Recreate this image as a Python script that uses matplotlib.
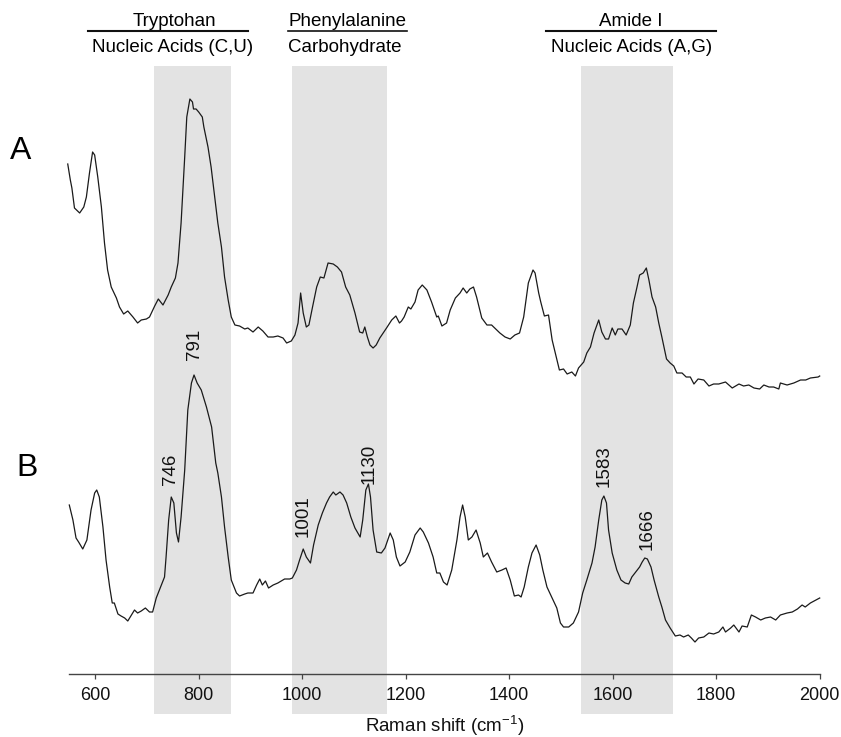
import numpy as np
import matplotlib
matplotlib.use("Agg")
import matplotlib.pyplot as plt
from matplotlib.lines import Line2D

plt.rcParams["font.family"] = ["Liberation Sans", "DejaVu Sans"]
plt.rcParams["mathtext.fontset"] = "custom"
plt.rcParams["mathtext.rm"] = "Liberation Sans"
plt.rcParams["mathtext.default"] = "regular"

# spectrum A (upper trace), intensity in arbitrary units, stacked offset already included
shift_a = [547, 552, 555, 560, 570, 578, 583, 589, 595, 599, 605, 612, 618, 624, 631, 641, 647, 655,
           663, 673, 682, 689, 699, 705, 715, 722, 731, 741, 747, 755, 760, 766, 773, 777, 783, 788,
           790, 795, 800, 807, 810, 818, 824, 831, 837, 844, 850, 857, 863, 870, 879, 889, 895, 905,
           915, 924, 934, 944, 953, 963, 970, 979, 986, 992, 997, 1002, 1008, 1013, 1020, 1028, 1035,
           1042, 1050, 1060, 1068, 1076, 1084, 1092, 1102, 1111, 1117, 1121, 1126, 1131, 1137, 1143,
           1150, 1163, 1173, 1181, 1188, 1192, 1197, 1205, 1210, 1218, 1224, 1232, 1241, 1250, 1260,
           1263, 1270, 1279, 1286, 1296, 1305, 1311, 1318, 1324, 1331, 1337, 1347, 1357, 1366, 1376,
           1382, 1392, 1402, 1411, 1420, 1428, 1437, 1446, 1450, 1457, 1461, 1468, 1476, 1483, 1489,
           1497, 1505, 1512, 1521, 1528, 1534, 1544, 1550, 1557, 1564, 1573, 1579, 1586, 1592, 1599,
           1605, 1610, 1618, 1626, 1634, 1640, 1647, 1652, 1659, 1665, 1670, 1676, 1683, 1689, 1695,
           1704, 1711, 1718, 1724, 1734, 1742, 1750, 1757, 1765, 1776, 1786, 1795, 1805, 1818, 1831,
           1844, 1853, 1863, 1873, 1884, 1892, 1902, 1911, 1921, 1924, 1937, 1950, 1963, 1973, 1982,
           1997, 2000]
intensity_a = [510, 494, 486, 466, 461, 467, 477, 501, 522, 519, 497, 467, 431, 404, 387, 376, 367, 360,
               363, 357, 351, 354, 355, 357, 368, 375, 369, 379, 387, 396, 411, 451, 517, 557, 575, 572,
               565, 565, 562, 557, 547, 527, 507, 477, 451, 427, 397, 374, 357, 349, 348, 345, 346, 342,
               347, 343, 337, 337, 338, 336, 331, 333, 339, 351, 381, 361, 347, 349, 367, 387, 397,
               396, 411, 410, 407, 402, 387, 379, 361, 342, 341, 347, 337, 329, 326, 329,
               336, 346, 354, 358, 351, 353, 357, 367, 365, 372, 384, 389, 384, 372, 357,
               358, 348, 351, 364, 376, 381, 386, 381, 385, 387, 377, 356, 349, 349, 344,
               341, 337, 335, 339, 341, 357, 391, 404, 401, 381, 372, 358, 359, 334, 321,
               304, 305, 300, 302, 298, 306, 312, 321, 327, 341, 354, 342, 335, 335, 346,
               339, 345, 345, 339, 349, 371, 387, 399, 401, 406, 394, 377, 367, 351, 337,
               315, 311, 308, 301, 301, 297, 297, 290, 295, 294, 288, 290, 290, 292, 286,
               290, 288, 289, 286, 285, 289, 287, 287, 285, 291, 289, 291, 294, 294, 296,
               297, 298]

# spectrum B (lower trace)
shift_b = [550, 557, 563, 568, 576, 584, 592, 599, 603, 608, 615, 621, 628, 633, 637, 644, 650, 657,
           663, 670, 676, 682, 689, 697, 705, 711, 718, 728, 734, 737, 742, 747, 752, 757, 761, 766,
           773, 779, 786, 791, 797, 805, 815, 825, 833, 837, 844, 850, 857, 863, 873, 879, 889, 895,
           905, 912, 918, 923, 929, 935, 944, 953, 966, 976, 981, 989, 995, 1002, 1008, 1016, 1022,
           1031, 1039, 1047, 1053, 1060, 1065, 1073, 1079, 1086, 1094, 1102, 1112, 1117, 1123, 1128,
           1132, 1137, 1144, 1153, 1160, 1170, 1176, 1182, 1189, 1199, 1208, 1218, 1228, 1234, 1244,
           1253, 1260, 1266, 1273, 1280, 1289, 1299, 1305, 1310, 1315, 1321, 1328, 1336, 1344, 1350,
           1358, 1366, 1376, 1386, 1394, 1402, 1410, 1418, 1423, 1429, 1437, 1444, 1452, 1459, 1465,
           1473, 1483, 1492, 1499, 1505, 1515, 1524, 1534, 1542, 1550, 1560, 1566, 1573, 1579, 1583,
           1588, 1592, 1599, 1608, 1616, 1624, 1631, 1637, 1643, 1652, 1657, 1662, 1667, 1674, 1680,
           1689, 1695, 1702, 1711, 1721, 1730, 1737, 1746, 1752, 1759, 1766, 1776, 1786, 1795, 1805,
           1813, 1818, 1828, 1834, 1844, 1850, 1860, 1868, 1876, 1886, 1895, 1905, 1915, 1924, 1937,
           1947, 1957, 1966, 1972, 1982, 2000]
intensity_b = [169, 154, 136, 132, 125, 134, 164, 181, 184, 177, 147, 114, 87, 71, 71, 60, 58, 56,
               53, 59, 64, 61, 63, 66, 62, 62, 76, 89, 97, 117, 154, 177, 171, 141, 132, 157,
               204, 264, 291, 299, 291, 284, 267, 247, 211, 201, 177, 147, 117, 94, 81, 78, 80, 81,
               81, 89, 95, 89, 93, 86, 89, 91, 95, 95, 96, 104, 114, 125, 117, 111, 129,
               149, 161, 171, 177, 182, 179, 182, 179, 171, 157, 146, 137, 154, 184, 190,
               177, 144, 122, 121, 126, 141, 134, 117, 108, 112, 122, 139, 146, 142, 131,
               117, 101, 101, 92, 89, 104, 134, 157, 169, 157, 134, 137, 144, 131, 117,
               121, 112, 102, 104, 106, 94, 78, 79, 77, 87, 107, 121, 129, 119, 104,
               87, 76, 66, 51, 47, 47, 51, 62, 81, 94, 111, 127, 154, 174, 178,
               171, 144, 121, 104, 94, 91, 90, 97, 101, 107, 112, 116, 115, 107, 94,
               77, 67, 54, 46, 38, 39, 37, 39, 36, 32, 36, 37, 41, 40, 42,
               47, 42, 46, 49, 42, 48, 47, 59, 57, 54, 56, 57, 54, 59, 61,
               62, 65, 69, 67, 71, 76]

# highlighted spectral regions (cm-1)
band_start = [713, 980, 1538]
band_end = [862, 1164, 1717]

# labelled peaks of spectrum B
peak_pos = [746, 791, 1001, 1130, 1583, 1666]
peak_text = ["746", "791", "1001", "1130", "1583", "1666"]

xticks = [600, 800, 1000, 1200, 1400, 1600, 1800, 2000]

W, H = 841, 737
fig = plt.figure(figsize=(W / 100, H / 100), dpi=100)


def fx(px):
    return px / W


def fy(py):
    return 1 - py / H


ax = fig.add_axes([fx(69.3), fy(714), fx(819.7) - fx(69.3), fy(66) - fy(714)])
ax.set_xlim(550, 2000)
ax.set_ylim(-40, 608)

for s, e in zip(band_start, band_end):
    ax.axvspan(s, e, color="#e3e3e3", lw=0, zorder=0)

ax.plot(shift_a, intensity_a, color="#1a1a1a", lw=0.9, clip_on=False, zorder=2)
ax.plot(shift_b, intensity_b, color="#1a1a1a", lw=0.9, clip_on=False, zorder=2)

# peak labels, a few points above the trace
peak_gap = [17, 15, 14, 6, 9, 9]
for p, t, g in zip(peak_pos, peak_text, peak_gap):
    yv = np.interp(p, shift_b, intensity_b)
    ax.text(p, yv + g, t, rotation=90, ha="center", va="bottom", fontsize=13.5, color="#111111")

ax.text(455, 523, "A", ha="center", va="center", fontsize=23)
ax.text(469, 206, "B", ha="center", va="center", fontsize=23)

for side in ["left", "right", "top"]:
    ax.spines[side].set_visible(False)
ax.spines["bottom"].set_position(("data", 0))
ax.spines["bottom"].set_color("#444444")
ax.spines["bottom"].set_linewidth(1.0)
ax.set_yticks([])
ax.set_xticks(xticks)
ax.set_xticklabels([str(t) for t in xticks])
ax.tick_params(axis="x", direction="out", length=3.6, width=0.9, color="#444444",
               labelsize=13, pad=5.5, labelcolor="#111111")
ax.patch.set_visible(False)

fig.text(fx(444.5), fy(731.5), "Raman shift (cm$^{-1}$)", ha="center", va="baseline",
         fontsize=13.5, color="#111111")

# region annotations on top
fs_top = 13.5
fig.text(fx(174), fy(26), "Tryptohan", ha="center", va="baseline", fontsize=fs_top)
fig.text(fx(172.5), fy(51.7), "Nucleic Acids (C,U)", ha="center", va="baseline", fontsize=fs_top)
fig.text(fx(288.3), fy(26.5), "Phenylalanine", ha="left", va="baseline", fontsize=fs_top)
fig.text(fx(288.3), fy(51.7), "Carbohydrate", ha="left", va="baseline", fontsize=fs_top)
fig.text(fx(631), fy(26), "Amide I", ha="center", va="baseline", fontsize=fs_top)
fig.text(fx(631.6), fy(51.7), "Nucleic Acids (A,G)", ha="center", va="baseline", fontsize=fs_top)

for x0, x1, lw in [(87.7, 247.7, 1.5), (288.3, 406.7, 1.2), (545.7, 716, 1.5)]:
    fig.add_artist(Line2D([fx(x0), fx(x1)], [fy(30.5), fy(30.5)], color="#111111", lw=lw))

fig.savefig("out.png", dpi=100)
